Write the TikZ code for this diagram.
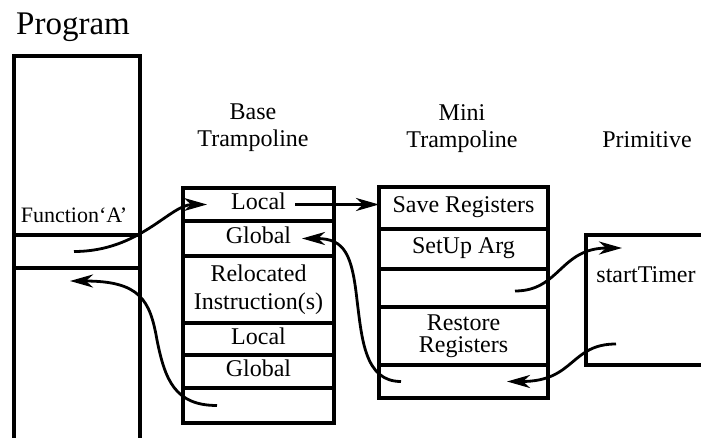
\documentclass[tikz,border=0pt]{standalone}
\usepackage{fontspec}
\setmainfont{Liberation Serif}
\usetikzlibrary{positioning,arrows.meta}

\begin{document}
\begin{tikzpicture}[x=1pt,y=-1pt,
        every node/.style={font=\fontsize{24}{28}\selectfont},
        cell/.style={draw,line width=3.4pt,inner sep=0pt,outer sep=0pt,text height=16pt,text depth=6pt,align=center},
        bcell/.style={cell,minimum width=151pt},
        mcell/.style={cell,minimum width=169pt},
        head/.style={inner sep=0pt,align=center},
        call/.style={line width=2.8pt,-{Stealth[length=23pt,width=13pt,inset=7pt]}}]
        \useasboundingbox (0,0) rectangle (701,438);
        \clip (0,0) rectangle (701,438);
        \node[head,anchor=base west,font=\fontsize{33}{38}\selectfont] (ptitle) at (16,35) {Program};
        \node[draw,line width=4.6pt,inner sep=0pt,outer sep=0pt,minimum width=126pt,minimum height=420pt] (prog) at (77,266) {};
        \node[cell,minimum width=126pt,minimum height=33pt] (pcall) at (77,251.5) {};
        \node[head,anchor=base,font=\fontsize{22}{26}\selectfont] (fname) at (74,223) {Function`A'};

        \node[head,anchor=south,font=\fontsize{24}{27}\selectfont] (bhead) at (253,152) {Base\\Trampoline};
        \node[bcell,minimum height=33pt] (bt1) at (258.5,204.5) {Local};
        \node[bcell,minimum height=35pt,below=0pt of bt1] (bt2) {Global};
        \node[bcell,minimum height=67pt,below=0pt of bt2,text height=,text depth=] (bt3) {Relocated\\Instruction(s)};
        \node[bcell,minimum height=32pt,below=0pt of bt3] (bt4) {Local};
        \node[bcell,minimum height=33pt,below=0pt of bt4] (bt5) {Global};
        \node[bcell,minimum height=35pt,below=0pt of bt5] (bt6) {};

        \node[head,anchor=south,font=\fontsize{24}{27}\selectfont] (mhead) at (462,153) {Mini\\Trampoline};
        \node[mcell,minimum height=42pt] (mt1) at (463.5,208) {Save Registers};
        \node[mcell,minimum height=40pt,below=0pt of mt1] (mt2) {SetUp Arg};
        \node[mcell,minimum height=38pt,below=0pt of mt2] (mt3) {};
        \node[mcell,minimum height=58pt,below=0pt of mt3,text height=,text depth=,font=\fontsize{24}{22}\selectfont] (mt4) {Restore\\Registers};
        \node[mcell,minimum height=33pt,below=0pt of mt4] (mt5) {};

        \node[head,anchor=base] (phead) at (647,148) {Primitive};
        \node[draw,line width=3.4pt,inner sep=0pt,outer sep=0pt,minimum width=174pt,minimum height=130pt] (prim) at (673,300) {};
        \node[head,anchor=base] (stimer) at (646,283) {startTimer};

        \draw[call] ([xshift=-3pt]pcall.center) .. controls +(66,0) and +(-37,0) .. ([xshift=24pt]bt1.west);
        \draw[call] ([xshift=-39pt]bt1.east) -- (bt1.east -| mt1.west);
        \draw[call] ([xshift=22pt]mt5.west) .. controls +(-36,0) and +(5,40) .. (357,300)
          .. controls +(-5,-45) and +(43,0) .. ([xshift=-32pt]bt2.east);
        \draw[call] ([xshift=34pt]bt6.west) .. controls +(-42,0) and +(8,40) .. (157,340)
          .. controls +(-7,-40) and +(70,0) .. ([xshift=-7pt,yshift=-13pt]pcall.south);
        \draw[call] ([xshift=-33pt,yshift=-3pt]mt3.east) .. controls +(45,0) and +(-62,0) .. ([xshift=36pt,yshift=-13pt]prim.north west);
        \draw[call] ([xshift=30pt,yshift=21pt]prim.south west) .. controls +(-46,0) and +(68,0) .. ([xshift=-41pt]mt5.east);
\end{tikzpicture}
\end{document}
